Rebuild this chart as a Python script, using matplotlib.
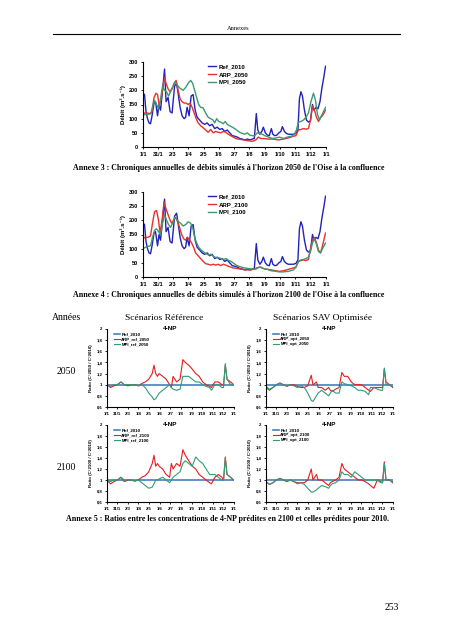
import numpy as np
import matplotlib
matplotlib.use('Agg')
from matplotlib import pyplot as plt

W, H = 452, 640

month_days = [0, 30, 60, 90, 121, 151, 182, 212, 243, 273, 304, 334, 365]
month_labels = ['1/1', '31/1', '2/3', '1/4', '2/5', '1/6', '2/7', '1/8',
                '1/9', '1/10', '1/11', '1/12', '1/1']

# debits (m3/s), reference 2010
ref_days = [0, 3, 6, 9, 12, 15, 18, 22, 25, 29, 32, 35, 39, 43, 46, 50, 54,
            58, 63, 67, 70, 74, 78, 82, 85, 88, 92, 96, 100, 104, 108, 113,
            118, 123, 128, 133, 138, 143, 148, 153, 158, 163, 168, 173, 178,
            183, 188, 193, 198, 203, 208, 213, 218, 222, 226, 229, 233, 237,
            240, 244, 248, 252, 256, 259, 263, 267, 271, 275, 278, 282, 286,
            290, 295, 300, 305, 309, 312, 315, 318, 322, 326, 330, 334, 338,
            341, 345, 349, 353, 357, 361, 364]
ref_q = [190, 185, 125, 100, 85, 82, 110, 155, 160, 110, 150, 130, 200, 275,
         160, 175, 125, 120, 215, 225, 190, 140, 110, 100, 105, 140, 110, 180,
         185, 130, 105, 95, 85, 80, 85, 75, 80, 65, 70, 62, 65, 55, 60, 50, 40,
         38, 35, 30, 28, 25, 28, 25, 28, 30, 118, 60, 45, 55, 70, 50, 42, 40,
         65, 45, 40, 42, 50, 55, 72, 55, 48, 45, 45, 45, 48, 60, 170, 195, 180,
         130, 95, 88, 92, 150, 130, 140, 135, 160, 210, 250, 285]

arp50_days = [0, 3, 8, 14, 18, 22, 26, 29, 32, 36, 40, 43, 46, 50, 54, 58, 62,
              66, 70, 74, 78, 82, 86, 90, 94, 98, 102, 106, 110, 115, 120, 125,
              130, 135, 140, 145, 150, 155, 160, 165, 170, 175, 180, 185, 190,
              200, 210, 218, 225, 230, 235, 240, 250, 260, 270, 280, 290, 300,
              305, 310, 315, 320, 325, 330, 334, 338, 342, 346, 350, 354, 358,
              364]
arp50_q = [105, 120, 120, 118, 125, 175, 190, 185, 150, 165, 215, 245, 225,
           205, 195, 205, 225, 235, 200, 170, 160, 155, 155, 150, 155, 140, 120,
           100, 85, 75, 68, 60, 52, 62, 50, 55, 52, 50, 55, 52, 45, 40, 35, 30,
           28, 25, 22, 20, 25, 35, 30, 30, 28, 28, 25, 28, 32, 38, 40, 60, 62,
           65, 63, 65, 95, 145, 130, 105, 90, 105, 110, 130]

mpi50_days = [0, 4, 10, 16, 20, 23, 27, 31, 35, 39, 43, 47, 51, 56, 60, 64, 68,
              72, 76, 80, 85, 90, 95, 99, 103, 107, 111, 115, 120, 125, 130,
              135, 140, 143, 147, 151, 155, 160, 164, 168, 173, 178, 183, 188,
              193, 198, 203, 208, 213, 218, 223, 228, 233, 238, 243, 250, 258,
              265, 272, 280, 288, 296, 302, 306, 310, 315, 320, 325, 330, 335,
              340, 344, 348, 352, 356, 360, 364]
mpi50_q = [120, 115, 115, 118, 150, 165, 150, 135, 170, 215, 200, 195, 180,
           200, 215, 230, 220, 210, 205, 200, 210, 225, 235, 225, 200, 175, 150,
           140, 138, 120, 105, 100, 95, 85, 100, 90, 88, 82, 90, 80, 75, 70, 65,
           58, 52, 48, 45, 50, 42, 40, 40, 50, 48, 45, 40, 35, 30, 32, 35, 30,
           35, 38, 45, 60, 88, 90, 95, 105, 120, 160, 190, 165, 115, 95, 110,
           125, 140]

arp00_days = [0, 4, 10, 15, 19, 23, 27, 31, 34, 38, 42, 45, 49, 53, 57, 61, 65,
              69, 73, 77, 81, 85, 89, 93, 97, 101, 105, 110, 115, 120, 125, 130,
              135, 140, 145, 150, 155, 160, 165, 170, 175, 180, 188, 195, 205,
              215, 222, 228, 233, 240, 248, 256, 265, 272, 280, 290, 300, 305,
              310, 315, 320, 325, 330, 334, 338, 342, 346, 350, 354, 358, 364]
arp00_q = [135, 140, 140, 145, 190, 230, 235, 200, 155, 200, 265, 245, 225,
           205, 190, 200, 210, 195, 175, 150, 135, 130, 140, 130, 120, 105, 85,
           75, 65, 55, 47, 45, 42, 45, 42, 45, 40, 45, 42, 38, 35, 32, 30, 28,
           25, 25, 28, 33, 35, 30, 27, 25, 22, 20, 22, 27, 32, 35, 55, 58, 60,
           58, 62, 100, 130, 140, 120, 95, 85, 110, 155]

mpi00_days = [0, 5, 10, 15, 19, 23, 27, 31, 35, 39, 43, 47, 51, 55, 59, 63, 67,
              71, 75, 80, 85, 90, 95, 99, 103, 107, 111, 116, 121, 126, 131,
              136, 141, 146, 151, 156, 161, 166, 171, 176, 181, 186, 191, 196,
              203, 210, 218, 225, 230, 235, 240, 248, 256, 265, 272, 280, 290,
              300, 305, 310, 315, 320, 325, 330, 334, 338, 342, 346, 350, 354,
              358, 364]
mpi00_q = [100, 105, 108, 110, 140, 165, 170, 160, 150, 190, 220, 200, 185,
           175, 190, 210, 205, 195, 190, 180, 185, 195, 190, 175, 140, 120, 105,
           95, 88, 82, 78, 80, 72, 68, 68, 65, 62, 65, 58, 55, 48, 42, 38, 35,
           32, 30, 28, 28, 33, 35, 30, 27, 22, 20, 18, 18, 20, 25, 35, 55, 60,
           62, 65, 70, 90, 120, 135, 115, 90, 85, 100, 120]

# ratios 4-NP (C / C 2010)
r_days = [0, 10, 20, 30, 40, 50, 60, 70, 80, 90, 100, 110, 120, 130, 135, 140,
          145, 150, 160, 170, 180, 185, 190, 200, 210, 218, 225, 235, 245, 255,
          265, 275, 285, 295, 300, 310, 320, 330, 335, 340, 345, 355, 364]
arp_ref50 = [1.0, 0.95, 0.98, 1.0, 1.05, 1.0, 0.98, 1.0, 1.0, 0.98, 1.02, 1.05,
             1.1, 1.2, 1.35, 1.2, 1.15, 1.2, 1.15, 1.1, 1.0, 0.95, 1.15, 1.05,
             1.1, 1.45, 1.4, 1.35, 1.28, 1.2, 1.15, 1.05, 1.0, 0.97, 0.95, 1.05,
             1.05, 1.0, 1.0, 1.35, 1.1, 1.05, 1.0]
mpi_ref50 = [1.0, 0.97, 1.0, 1.0, 1.05, 1.0, 1.0, 1.0, 1.0, 0.98, 1.0, 0.95,
             0.85, 0.78, 0.73, 0.75, 0.8, 0.85, 0.9, 0.95, 1.0, 0.95, 0.92, 0.9,
             0.92, 1.15, 1.15, 1.15, 1.1, 1.05, 1.05, 1.0, 0.97, 0.95, 0.9, 1.0,
             1.0, 0.95, 0.95, 1.38, 1.1, 1.0, 1.0]
arp_opt50 = [0.95, 0.9, 0.95, 1.0, 1.03, 1.0, 0.97, 1.0, 1.0, 0.97, 0.95, 0.95,
             0.98, 1.17, 1.0, 1.02, 1.05, 0.95, 0.95, 0.9, 0.95, 0.9, 0.88,
             0.92, 0.95, 1.22, 1.15, 1.15, 1.05, 1.0, 1.0, 1.0, 0.95, 0.9, 0.88,
             0.95, 0.95, 0.95, 0.95, 1.28, 1.05, 1.0, 0.95]
mpi_opt50 = [0.97, 0.92, 0.95, 1.0, 1.03, 1.0, 0.98, 1.0, 0.98, 0.95, 0.98,
             0.95, 0.85, 0.72, 0.7, 0.75, 0.8, 0.85, 0.9, 0.85, 0.8, 0.85, 0.9,
             0.85, 0.85, 1.05, 1.02, 1.0, 0.98, 0.95, 0.9, 0.9, 0.88, 0.82, 0.95,
             0.95, 0.92, 0.9, 0.9, 1.3, 1.0, 1.0, 0.97]
arp_ref00 = [1.0, 0.93, 0.97, 1.0, 1.05, 0.97, 1.0, 1.0, 0.98, 1.0, 1.05, 1.08,
             1.15, 1.3, 1.45, 1.25, 1.3, 1.25, 1.2, 1.1, 1.05, 1.3, 1.2, 1.3,
             1.25, 1.55, 1.45, 1.35, 1.25, 1.2, 1.1, 1.05, 1.0, 0.95, 0.93, 1.05,
             1.1, 1.05, 1.0, 1.42, 1.1, 1.05, 1.0]
mpi_ref00 = [1.0, 0.97, 1.0, 1.0, 1.05, 1.0, 1.0, 1.0, 0.98, 1.0, 0.95, 0.9,
             0.85, 0.87, 0.93, 1.0, 1.0, 1.02, 1.05, 1.0, 0.95, 1.0, 1.05, 1.1,
             1.15, 1.3, 1.35, 1.3, 1.25, 1.42, 1.35, 1.3, 1.2, 1.1, 1.1, 1.1,
             1.05, 1.0, 1.0, 1.4, 1.1, 1.05, 1.0]
arp_opt00 = [0.97, 0.92, 0.95, 1.0, 1.03, 1.0, 0.97, 1.0, 0.97, 0.95, 0.95,
             0.95, 1.0, 1.2, 1.0, 1.05, 1.1, 1.0, 1.0, 0.95, 0.9, 0.95, 0.97,
             1.0, 1.05, 1.3, 1.2, 1.15, 1.1, 1.05, 1.0, 1.0, 0.97, 0.93, 0.9,
             0.85, 1.0, 0.97, 0.95, 1.33, 1.0, 1.0, 0.95]
mpi_opt00 = [0.97, 0.92, 0.95, 1.0, 1.03, 1.0, 0.98, 1.0, 0.97, 0.93, 0.95,
             0.92, 0.85, 0.78, 0.78, 0.8, 0.82, 0.85, 0.9, 0.88, 0.85, 0.9, 0.93,
             0.95, 1.0, 1.15, 1.1, 1.1, 1.05, 1.15, 1.1, 1.05, 1.0, 1.0, 1.0,
             1.0, 1.0, 0.95, 0.95, 1.3, 1.0, 1.0, 0.97]

ratio_ticks = [0.6, 0.8, 1.0, 1.2, 1.4, 1.6, 1.8, 2.0]
ratio_labels = ['0,6', '0,8', '1', '1,2', '1,4', '1,6', '1,8', '2']

SANS = ['Liberation Sans', 'DejaVu Sans']
SERIF = ['Liberation Serif', 'DejaVu Serif']

fig = plt.figure(figsize=(W / 100, H / 100), dpi=100)


def axes_px(left, right, top, bottom):
    return fig.add_axes([left / W, 1 - bottom / H, (right - left) / W,
                         (bottom - top) / H])


def style(ax, fs):
    for s in ('top', 'right'):
        ax.spines[s].set_visible(False)
    for s in ('left', 'bottom'):
        ax.spines[s].set_linewidth(0.8)
    ax.set_xlim(0, 365)
    ax.set_xticks(month_days)
    ax.set_xticklabels(month_labels)
    ax.tick_params(length=1.5, width=0.6, pad=2, labelsize=fs)
    for lab in ax.get_xticklabels() + ax.get_yticklabels():
        lab.set_family(SANS)
        lab.set_fontweight('bold')


def flow_chart(top, bottom, series):
    ax = axes_px(143, 326, top, bottom)
    for days, q, c, lab in series:
        ax.plot(days, q, color=c, lw=1.0, label=lab)
    ax.set_ylim(0, 300)
    ax.set_yticks(range(0, 301, 50))
    style(ax, 4.0)
    ax.set_ylabel('Débit (m³.s⁻¹)', family=SANS, fontweight='bold',
                  fontsize=4.4, labelpad=2)
    ax.legend(loc='upper left', bbox_to_anchor=(0.326, 1.04), frameon=False,
              prop={'family': SANS, 'weight': 'bold', 'size': 4.4},
              handlelength=1.3, handletextpad=0.4, labelspacing=0.4)
    return ax


def ratio_chart(left, top, bottom, arp, mpi, tag, year):
    ax = axes_px(left, left + 127, top, bottom)
    ax.plot([0, 364], [1, 1], color='#4a7ebb', lw=1.2, label='Ref_2010')
    ax.plot(r_days, arp, color='#e41e1e', lw=0.8,
            label='ARP_%s_%s' % (tag, year))
    ax.plot(r_days, mpi, color='#2e9e78', lw=0.8,
            label='MPI_%s_%s' % (tag, year))
    ax.set_ylim(0.6, 2.0)
    ax.set_yticks(ratio_ticks)
    ax.set_yticklabels(ratio_labels)
    style(ax, 3.1)
    ax.set_ylabel('Ratio (C°%s / C°2010)' % year, family=SANS,
                  fontweight='bold', fontsize=3.2, labelpad=2)
    ax.text(0.5, 1.0, '4-NP', transform=ax.transAxes, ha='center',
            va='center', family=SANS, fontweight='bold', fontsize=4.6)
    ax.legend(loc='upper left', bbox_to_anchor=(0.025, 1.013), frameon=False,
              prop={'family': SANS, 'weight': 'bold', 'size': 3.2},
              handlelength=1.2, handletextpad=0.4, labelspacing=0.2)
    return ax


flow_chart(62, 147, [(ref_days, ref_q, '#2222b8', 'Ref_2010'),
                     (arp50_days, arp50_q, '#e8302c', 'ARP_2050'),
                     (mpi50_days, mpi50_q, '#3c9a6e', 'MPI_2050')])
flow_chart(192, 277, [(ref_days, ref_q, '#2222b8', 'Ref_2010'),
                      (arp00_days, arp00_q, '#e8302c', 'ARP_2100'),
                      (mpi00_days, mpi00_q, '#3c9a6e', 'MPI_2100')])

ratio_chart(107, 329, 407, arp_ref50, mpi_ref50, 'ref', '2050')
ratio_chart(266, 329, 407, arp_opt50, mpi_opt50, 'opt', '2050')
ratio_chart(107, 425, 502, arp_ref00, mpi_ref00, 'ref', '2100')
ratio_chart(266, 425, 502, arp_opt00, mpi_opt00, 'opt', '2100')


def text_px(x, y, s, size, weight='normal', ha='center'):
    fig.text(x / W, 1 - y / H, s, family=SERIF, fontsize=size,
             fontweight=weight, ha=ha, va='center')


text_px(238, 29, 'Annexes', 4.6)
fig.add_artist(plt.Line2D([53 / W, 400 / W], [1 - 34 / H, 1 - 34 / H],
                          color='black', lw=0.8))
text_px(229, 168, "Annexe 3 : Chroniques annuelles de débits simulés à "
        "l'horizon 2050 de l'Oise à la confluence", 5.7, 'bold')
text_px(229, 295, "Annexe 4 : Chroniques annuelles de débits simulés à "
        "l'horizon 2100 de l'Oise à la confluence", 5.7, 'bold')
text_px(67, 318, 'Années', 7)
text_px(164, 318, 'Scénarios Référence', 6.8)
text_px(323, 318, 'Scénarios SAV Optimisée', 6.8)
text_px(66, 372, '2050', 7)
text_px(66, 467, '2100', 7)
text_px(228, 519, 'Annexe 5 : Ratios entre les concentrations de 4-NP '
        'prédites en 2100 et celles prédites pour 2010.', 5.7, 'bold')
text_px(392, 608, '253', 7)

fig.savefig('out.png', dpi=100)
